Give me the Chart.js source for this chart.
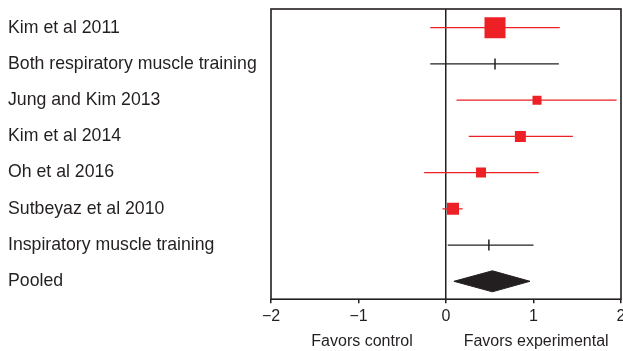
<!DOCTYPE html>
<html>
<head>
<meta charset="utf-8">
<script src="https://cdn.jsdelivr.net/npm/chart.js"></script>
<style>
  html, body { margin: 0; padding: 0; background: #fff; overflow: hidden; }
  #wrap { width: 640px; height: 351px; }
</style>
</head>
<body>
<div id="wrap"><canvas id="c" width="640" height="351"></canvas></div>
<script>
// ---- data ----
const rowLabels = ["Kim et al 2011", "Both respiratory muscle training", "Jung and Kim 2013",
  "Kim et al 2014", "Oh et al 2016", "Sutbeyaz et al 2010", "Inspiratory muscle training", "Pooled"];
const rowKinds = ["study", "subtotal", "study", "study", "study", "study", "subtotal", "pooled"];
const estimates = [0.56, 0.56, 1.04, 0.85, 0.40, 0.08, 0.49, 0.53];
const lowerCI  = [-0.18, -0.18, 0.12, 0.26, -0.25, -0.04, 0.02, 0.09];
const upperCI  = [1.30, 1.29, 1.95, 1.45, 1.06, 0.19, 1.00, 0.96];
const weights  = [49.7, null, 9.1, 13.6, 11.3, 16.2, null, null]; // % study weight
const xTicks = [-2, -1, 0, 1, 2];
const sideLabels = ["Favors control", "Favors experimental"];
const sideLabelAt = [-0.96, 1.03];

// ---- style ----
const RED = "rgb(237,32,38)";
const INK = "#231f20";
const boxScale = 2.98;        // box side (px) = boxScale * sqrt(weight)
const diamondHalf = 0.29;     // half height of pooled diamond in row units

const rows = rowLabels.map((l, i) => ({ i, y: i + 1, kind: rowKinds[i] }));

const ciSets = rows.filter(r => r.kind !== "pooled").map(r => ({
  type: "scatter",
  showLine: true,
  data: [{ x: lowerCI[r.i], y: r.y }, { x: upperCI[r.i], y: r.y }],
  borderColor: r.kind === "study" ? RED : INK,
  borderWidth: 1.3,
  pointRadius: 0,
  order: 3
}));

const studies = rows.filter(r => r.kind === "study");
const squares = {
  type: "scatter",
  data: studies.map(r => ({ x: estimates[r.i], y: r.y })),
  pointStyle: "rect",
  pointRadius: studies.map(r => boxScale * Math.sqrt(weights[r.i]) / Math.SQRT2),
  backgroundColor: RED,
  borderWidth: 0,
  order: 0
};

const subs = rows.filter(r => r.kind === "subtotal");
const subTicks = {
  type: "scatter",
  data: subs.map(r => ({ x: estimates[r.i], y: r.y })),
  pointStyle: "line",
  rotation: 90,
  pointRadius: 5.5,
  borderColor: INK,
  borderWidth: 1.5,
  order: 0
};

const pooled = rows.filter(r => r.kind === "pooled")[0];
const p = pooled.i;
const diamondTop = {
  type: "scatter", showLine: true,
  data: [{ x: lowerCI[p], y: pooled.y }, { x: estimates[p], y: pooled.y - diamondHalf }, { x: upperCI[p], y: pooled.y }],
  borderColor: INK, borderWidth: 1, pointRadius: 0, backgroundColor: INK, fill: false, order: 1
};
const diamondBottom = {
  type: "scatter", showLine: true,
  data: [{ x: lowerCI[p], y: pooled.y }, { x: estimates[p], y: pooled.y + diamondHalf }, { x: upperCI[p], y: pooled.y }],
  borderColor: INK, borderWidth: 1, pointRadius: 0, backgroundColor: INK, fill: "-1", order: 1
};

const frame = {
  id: "frame",
  afterDraw(chart) {
    const { ctx, chartArea: a } = chart;
    ctx.save();
    ctx.strokeStyle = INK;
    ctx.lineWidth = 1.6;
    ctx.strokeRect(a.left, a.top, a.right - a.left, a.bottom - a.top);
    ctx.restore();
  }
};

const noPad = s => { s.paddingTop = 0; s.paddingBottom = 0; s.paddingLeft = 0; s.paddingRight = 0; };

new Chart(document.getElementById("c"), {
  type: "scatter",
  data: { datasets: [squares, subTicks, diamondTop, diamondBottom, ...ciSets] },
  options: {
    responsive: false,
    animation: false,
    events: [],
    layout: { autoPadding: false, padding: { left: 8, right: 19, top: 9, bottom: 0 } },
    plugins: { legend: { display: false }, tooltip: { enabled: false } },
    scales: {
      x: {
        type: "linear", position: "bottom", min: -2, max: 2, weight: 0,
        afterBuildTicks: s => { s.ticks = xTicks.map(v => ({ value: v })); },
        ticks: {
          callback: v => String(v).replace("-", "\u2212"),
          font: { family: "Liberation Sans, Arial, sans-serif", size: 16 },
          color: INK, padding: 4, maxRotation: 0, autoSkip: false
        },
        grid: {
          color: c => (c.tick && c.tick.value === 0) ? INK : "rgba(0,0,0,0)",
          lineWidth: 1.5, tickLength: 4, tickColor: INK, tickWidth: 1.5
        },
        border: { display: false },
        afterFit: s => { s.height = 25; noPad(s); }
      },
      x2: {
        type: "linear", position: "bottom", min: -2, max: 2, weight: 1,
        afterBuildTicks: s => { s.ticks = sideLabelAt.map(v => ({ value: v })); },
        ticks: {
          callback: (v, i) => sideLabels[i],
          font: { family: "Liberation Sans, Arial, sans-serif", size: 16 },
          color: INK, padding: 8, maxRotation: 0, autoSkip: false
        },
        grid: { display: false, drawTicks: false },
        border: { display: false },
        afterFit: s => { s.height = 26.8; noPad(s); }
      },
      y: {
        type: "linear", position: "left", reverse: true, min: 0.484, max: 8.494,
        afterBuildTicks: s => { s.ticks = rows.map(r => ({ value: r.y })); },
        ticks: {
          callback: v => rowLabels[Math.round(v) - 1],
          font: { family: "Liberation Sans, Arial, sans-serif", size: 17.7 },
          color: INK, crossAlign: "far", autoSkip: false, padding: 0
        },
        grid: { display: false, drawTicks: false },
        border: { display: false },
        afterFit: s => { s.width = 263; noPad(s); }
      }
    }
  },
  plugins: [frame]
});
</script>
</body>
</html>
